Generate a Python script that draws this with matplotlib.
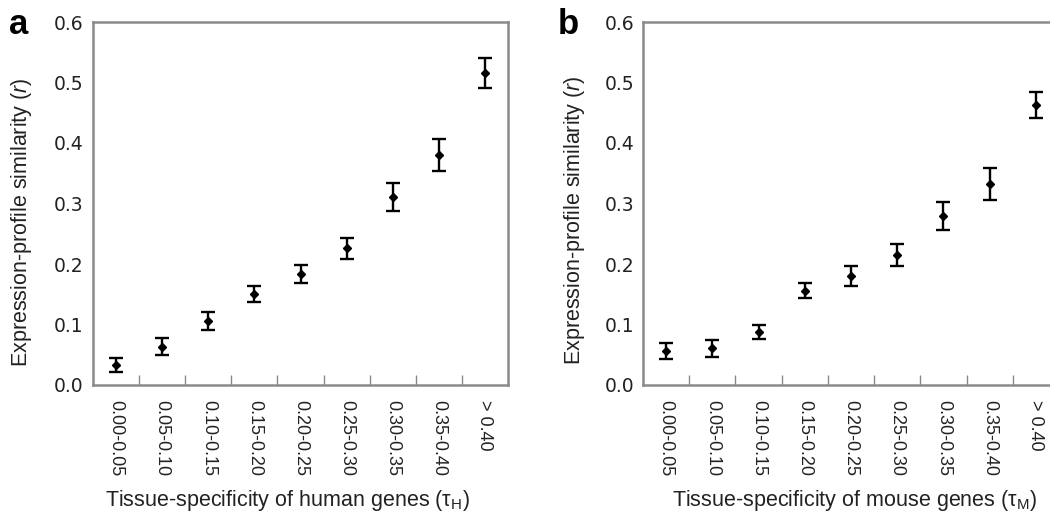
import matplotlib
matplotlib.use("Agg")
import matplotlib.pyplot as plt
import matplotlib.transforms as mtransforms
import numpy as np

plt.rcParams['mathtext.fontset'] = 'custom'
plt.rcParams['mathtext.rm'] = 'Liberation Sans'
plt.rcParams['mathtext.it'] = 'Liberation Sans:italic'

bins = ["0.00-0.05", "0.05-0.10", "0.10-0.15", "0.15-0.20", "0.20-0.25",
        "0.25-0.30", "0.30-0.35", "0.35-0.40", "> 0.40"]

human_r = [0.033, 0.063, 0.106, 0.150, 0.184, 0.226, 0.311, 0.380, 0.516]
human_err = [0.011, 0.014, 0.015, 0.013, 0.015, 0.017, 0.023, 0.026, 0.025]

mouse_r = [0.056, 0.061, 0.088, 0.156, 0.180, 0.215, 0.279, 0.332, 0.463]
mouse_err = [0.013, 0.014, 0.012, 0.013, 0.016, 0.018, 0.023, 0.027, 0.022]

yticks = [0.0, 0.1, 0.2, 0.3, 0.4, 0.5, 0.6]

W, H = 1050, 514
fig = plt.figure(figsize=(W / 100, H / 100), dpi=100)

spine_color = '#8a8a8a'
text_color = '#222222'


def panel(left_px, width_px, values, errs, xlabel, letter, letter_x,
          tick_shift, xlabel_center, ylabel_right, ylabel_center, ytick_pad):
    bottom_px, top_px = 385, 22
    height_px = bottom_px - top_px
    ax = fig.add_axes([left_px / W, 1 - bottom_px / H, width_px / W,
                       height_px / H])
    x = np.arange(len(values))
    ax.errorbar(x, values, yerr=errs, fmt='D', color='black', ms=4.5,
                elinewidth=1.7, capsize=5, capthick=1.7)
    ax.set_xlim(-0.5, len(values) - 0.5)
    ax.set_ylim(0, 0.6)
    ax.set_yticks(yticks)
    ax.set_yticklabels([f"{v:.1f}" for v in yticks], fontsize=13.5,
                       family='DejaVu Sans', color=text_color)
    ax.tick_params(axis='y', length=0, pad=ytick_pad)
    # boundary ticks between bins, labels at bin centres
    ax.set_xticks(x[:-1] + 0.5)
    ax.set_xticklabels([])
    ax.tick_params(axis='x', which='major', direction='in', length=7,
                   width=1, color=spine_color)
    ax.set_xticks(x, minor=True)
    labels = ax.set_xticklabels(bins, minor=True, rotation=-90, fontsize=13,
                                family='Liberation Sans', color=text_color,
                                va='top', ha='center')
    shift = mtransforms.ScaledTranslation(tick_shift / 100, 0,
                                          fig.dpi_scale_trans)
    for lab in labels:
        lab.set_transform(lab.get_transform() + shift)
    ax.tick_params(axis='x', which='minor', length=0, pad=11)
    for s in ax.spines.values():
        s.set_color(spine_color)
        s.set_linewidth(1.8)
    ax.set_ylabel(r'Expression-profile similarity ($\mathit{r}$)',
                  fontsize=15.5, family='Liberation Sans', color=text_color)
    ax.yaxis.set_label_coords((ylabel_right - left_px) / width_px,
                              (bottom_px - ylabel_center) / height_px)
    ax.set_xlabel(xlabel, fontsize=15.5, family='Liberation Sans',
                  color=text_color)
    ax.xaxis.set_label_coords((xlabel_center - left_px) / width_px,
                              (bottom_px - 488) / height_px)
    fig.text(letter_x / W, 1 - 34 / H, letter, fontsize=25,
             fontweight='bold', family='Liberation Sans', va='baseline')
    return ax


panel(93, 415, human_r, human_err,
      r'Tissue-specificity of human genes (τ$_{\mathrm{H}}$)', 'a', 9,
      tick_shift=-7, xlabel_center=287, ylabel_right=34, ylabel_center=222,
      ytick_pad=7)
panel(643, 416, mouse_r, mouse_err,
      r'Tissue-specificity of mouse genes (τ$_{\mathrm{M}}$)', 'b', 558,
      tick_shift=1, xlabel_center=855, ylabel_right=587, ylabel_center=220,
      ytick_pad=6)

fig.savefig('out.png', dpi=100)
